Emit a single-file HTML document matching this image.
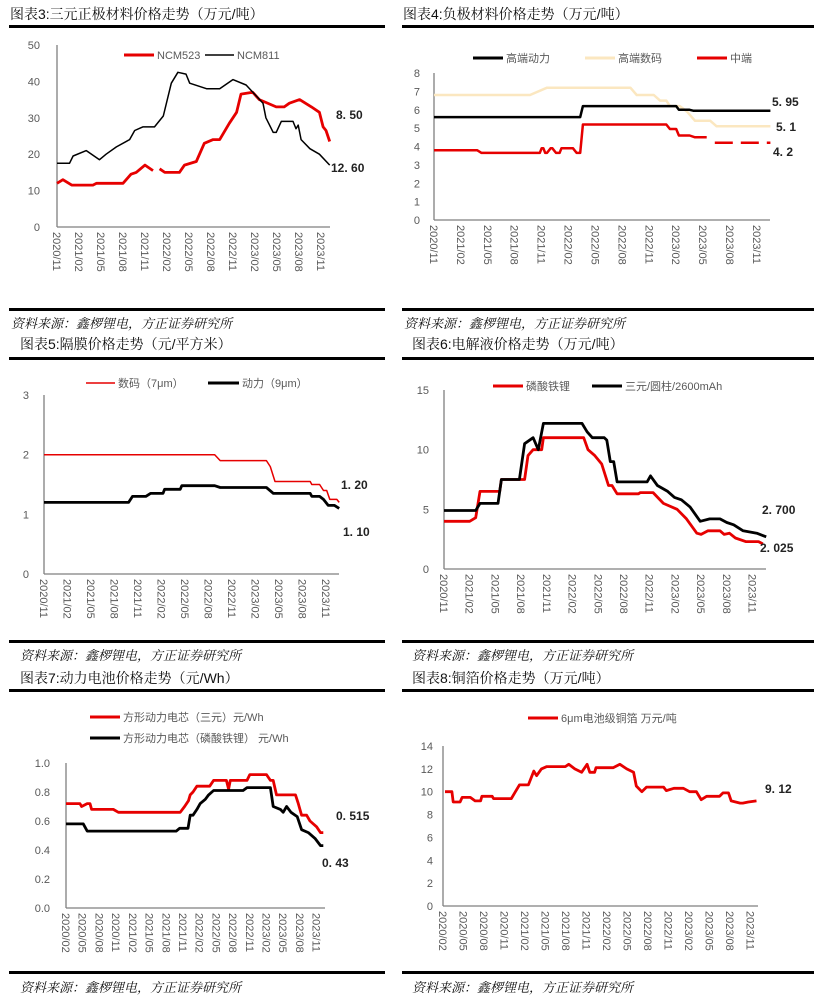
<!DOCTYPE html>
<html><head><meta charset="utf-8">
<style>
html,body{margin:0;padding:0;background:#fff;}
svg{display:block;font-family:"Liberation Sans","Noto Sans CJK SC",sans-serif;}
.ttl{font-size:14px;fill:#111;font-family:"Liberation Sans","Noto Serif CJK SC",serif;}
.src{font-size:13px;fill:#111;font-style:italic;font-family:"Liberation Serif","Noto Serif CJK SC",serif;}
.tk{font-size:11px;fill:#595959;}
.lg{font-size:11px;fill:#595959;}
.ann{font-size:12px;font-weight:bold;fill:#222;}
</style></head><body>
<svg id="root" width="829" height="1000" viewBox="0 0 829 1000" xmlns="http://www.w3.org/2000/svg">
<g>
<text class="ttl" x="10" y="19">图表3:三元正极材料价格走势（万元/吨）</text>
<rect x="9" y="25" width="376" height="3" fill="#000"/>
<text class="ttl" x="403" y="19">图表4:负极材料价格走势（万元/吨）</text>
<rect x="402" y="25" width="412" height="3" fill="#000"/>
<rect x="9" y="308" width="376" height="3" fill="#000"/>
<rect x="402" y="308" width="412" height="3" fill="#000"/>
<text class="src" x="11" y="328">资料来源：鑫椤锂电，方正证券研究所</text>
<text class="src" x="404" y="328">资料来源：鑫椤锂电，方正证券研究所</text>
<text class="ttl" x="20" y="349">图表5:隔膜价格走势（元/平方米）</text>
<rect x="9" y="357" width="376" height="3" fill="#000"/>
<text class="ttl" x="412" y="349">图表6:电解液价格走势（万元/吨）</text>
<rect x="402" y="357" width="412" height="3" fill="#000"/>
<rect x="9" y="640" width="376" height="3" fill="#000"/>
<rect x="402" y="640" width="412" height="3" fill="#000"/>
<text class="src" x="20" y="660">资料来源：鑫椤锂电，方正证券研究所</text>
<text class="src" x="412" y="660">资料来源：鑫椤锂电，方正证券研究所</text>
<text class="ttl" x="20" y="683">图表7:动力电池价格走势（元/Wh）</text>
<rect x="9" y="689" width="376" height="3" fill="#000"/>
<text class="ttl" x="412" y="683">图表8:铜箔价格走势（万元/吨）</text>
<rect x="402" y="689" width="412" height="3" fill="#000"/>
<rect x="9" y="971" width="376" height="3" fill="#000"/>
<rect x="402" y="971" width="412" height="3" fill="#000"/>
<text class="src" x="20" y="992">资料来源：鑫椤锂电，方正证券研究所</text>
<text class="src" x="412" y="992">资料来源：鑫椤锂电，方正证券研究所</text>
</g>
</svg>
<script>
// ---------- DATA (month index from first x label; values) ----------
const c3Labels = ["2020/11","2021/02","2021/05","2021/08","2021/11","2022/02","2022/05","2022/08","2022/11","2023/02","2023/05","2023/08","2023/11"];
const c3Ticks = [0,10,20,30,40,50];
const c3NcmaM = [0,0.8,2,4.9,5.4,9,10.1,10.8,12,13.1,null,14,14.7,16.7,17.4,19,20.1,21.3,22.2,23.5,24.5,25.1,26.7,27.6,29.9,31,31.7,33.1,34.7,35.8,36.3,36.7,37.2];
const c3NcmaV = [12,13,11.5,11.5,12,12,14.5,15,17,15.5,null,16,15,15,17,18,23,24,24,28.5,31.5,36.5,37,35,33,33,34,35,33,31.5,27.5,26.5,23.5];
const c3NcmbM = [0,1.7,2.2,4,5.8,6.7,8.1,9.9,10.6,11.7,13.3,14.5,15.6,16.5,17.6,18.1,20.4,22.2,24,25.8,28.1,28.5,29.5,29.9,30.6,32.2,32.6,32.9,33.3,34.5,35.8,37.2];
const c3NcmbV = [17.5,17.5,19.5,21,18.5,20,22,24,26.5,27.5,27.5,30.5,39.5,42.5,42,39.5,38,38,40.5,39,34,30,26,26,29,29,27,28,24,21.5,20,17];

const c4Labels = ["2020/11","2021/02","2021/05","2021/08","2021/11","2022/02","2022/05","2022/08","2022/11","2023/02","2023/05","2023/08","2023/11"];
const c4Ticks = [0,1,2,3,4,5,6,7,8];
const c4PowerM = [0,16.3,16.6,27,27.3,28.5,28.9,37.5];
const c4PowerV = [5.6,5.6,6.2,6.2,6.0,6.0,5.95,5.95];
const c4DigitalM = [0,10.7,12.6,21.9,22.6,24.5,25.2,25.9,26.3,27.4,28.2,29.1,30.8,31.5,37.5];
const c4DigitalV = [6.8,6.8,7.2,7.2,6.8,6.8,6.5,6.5,6.2,6.2,5.9,5.4,5.4,5.1,5.1];
const c4MidM = [0,4.8,5.3,11.8,12.0,12.2,12.4,12.6,13.0,13.2,13.6,14.0,14.2,15.5,15.9,16.3,16.6,25.9,26.3,27,27.3,28.5,29.1,30.4];
const c4MidV = [3.8,3.8,3.65,3.65,3.9,3.9,3.65,3.65,3.9,3.9,3.65,3.65,3.9,3.9,3.65,3.65,5.2,5.2,4.95,4.95,4.6,4.6,4.5,4.5];
const c4MidEstM = [31.3,37.5];
const c4MidEstV = [4.2,4.2];

const c5Labels = ["2020/11","2021/02","2021/05","2021/08","2021/11","2022/02","2022/05","2022/08","2022/11","2023/02","2023/05","2023/08","2023/11"];
const c5Ticks = [0,1,2,3];
const c5DigitalM = [0,21.8,22.5,28.4,28.9,29.5,34,34.2,35.2,35.7,36.1,36.5,37.4,37.7];
const c5DigitalV = [2.0,2.0,1.9,1.9,1.8,1.55,1.55,1.5,1.5,1.4,1.4,1.25,1.25,1.2];
const c5PowerM = [0,10.8,11.3,13,13.6,15.2,15.4,17.4,17.6,21.8,22.5,28.4,29.3,34,34.2,35.2,35.7,36.3,37.1,37.7];
const c5PowerV = [1.2,1.2,1.3,1.3,1.35,1.35,1.42,1.42,1.48,1.48,1.45,1.45,1.35,1.35,1.3,1.3,1.25,1.15,1.15,1.1];

const c6Labels = ["2020/11","2021/02","2021/05","2021/08","2021/11","2022/02","2022/05","2022/08","2022/11","2023/02","2023/05","2023/08","2023/11"];
const c6Ticks = [0,5,10,15];
const c6LfpM = [0,3,3.7,4.2,6.5,6.7,9.4,9.8,10.4,11.4,11.6,16.3,16.8,17.6,18.4,19.2,19.6,20.2,22.7,22.9,24.4,25.6,27.2,28.3,29.5,30,30.8,32.2,32.7,33.3,34,35.2,36.7,37.2];
const c6LfpV = [4,4,4.3,6.5,6.5,7.5,7.5,9.5,10,10,11,11,10,9.5,8.8,7,7,6.3,6.3,6.4,6.4,5.5,5,4.2,3,2.9,3.2,3.2,2.9,3.0,2.6,2.3,2.3,2.1];
const c6NcmM = [0,3.7,4.2,6.3,6.7,8.8,9.4,10.4,11,11.6,16.1,16.7,17.3,18.7,19,19.4,19.8,20.2,23.7,24.1,24.9,26.1,26.9,27.7,28.7,29.9,31,32.2,33,33.8,34.9,36.5,37.6];
const c6NcmV = [4.9,4.9,5.5,5.5,7.5,7.5,10.5,11,10,12.2,12.2,11.5,11,11,10.8,9,9,7.3,7.3,7.8,7,6.5,6,5.8,5.2,4,4.2,4.2,3.9,3.7,3.2,3,2.7];

const c7Labels = ["2020/02","2020/05","2020/08","2020/11","2021/02","2021/05","2021/08","2021/11","2022/02","2022/05","2022/08","2022/11","2023/02","2023/05","2023/08","2023/11"];
const c7Ticks = [0,0.2,0.4,0.6,0.8,1.0];
const c7NcmM = [0,2.5,2.8,3.8,4.3,4.6,8.5,9.4,20.5,21.3,22,22.3,22.8,23.5,25.8,26.5,28.8,29.2,29.5,32.5,33,36,36.7,37.2,37.8,41.2,41.7,42.3,43.2,43.8,45,45.7,46.2];
const c7NcmV = [0.72,0.72,0.7,0.72,0.72,0.68,0.68,0.66,0.66,0.7,0.74,0.78,0.8,0.84,0.84,0.88,0.88,0.82,0.88,0.88,0.92,0.92,0.88,0.88,0.78,0.78,0.72,0.64,0.64,0.6,0.56,0.52,0.52];
const c7LfpM = [0,3.1,3.8,19.8,20.4,21.9,22.3,22.8,23.5,24.1,25,25.6,26.5,31.8,32.5,36.7,37.2,38.5,39,39.6,40.4,41.5,42.3,43.5,44.7,45.7,46.2];
const c7LfpV = [0.58,0.58,0.53,0.53,0.55,0.55,0.64,0.64,0.68,0.72,0.75,0.78,0.81,0.81,0.83,0.83,0.7,0.68,0.66,0.7,0.66,0.63,0.54,0.52,0.48,0.43,0.43];

const c8Labels = ["2020/02","2020/05","2020/08","2020/11","2021/02","2021/05","2021/08","2021/11","2022/02","2022/05","2022/08","2022/11","2023/02","2023/05","2023/08","2023/11"];
const c8Ticks = [0,2,4,6,8,10,12,14];
const c8FoilM = [0.3,1.3,1.5,2.5,2.8,4,4.7,5.5,5.7,7.2,7.4,10,10.6,11.2,12.5,13.3,13.7,14.4,15.2,17.9,18.4,19.3,20.3,21.1,21.5,22.2,22.4,24.9,25.9,26.9,27.9,28.3,29.1,29.8,32.3,32.7,33.8,35.2,36.1,37.1,37.8,38.6,40.5,41,41.8,42.2,43.5,43.9,44.7,45.9];
const c8FoilV = [10,10,9.1,9.1,9.5,9.5,9.2,9.2,9.6,9.6,9.4,9.4,10,10.6,10.6,11.8,11.4,12,12.2,12.2,12.4,12,11.7,12.4,11.7,11.7,12.1,12.1,12.4,12,11.7,10.5,10,10.4,10.4,10.1,10.3,10.3,10,10,9.3,9.6,9.6,9.9,9.9,9.2,9.0,9.0,9.1,9.2];

// ---------- RENDER ----------
const NS = "http://www.w3.org/2000/svg";
const root = document.getElementById('root');
function mk(tag, attrs, parent){
  const e = document.createElementNS(NS, tag);
  for (const k in attrs) e.setAttribute(k, attrs[k]);
  (parent||root).appendChild(e);
  return e;
}
function chart(cfg){
  const g = mk('g', {});
  
  
  const yMax = cfg.ticks[cfg.ticks.length-1];
  const xs = m => cfg.x0 + m * cfg.ppm;
  const ys = v => cfg.y0 - (v / yMax) * (cfg.y0 - cfg.yTop);
  const ya = mk('line', {x1:cfg.x0, y1:cfg.yTop, x2:cfg.x0, y2:cfg.y0, stroke:'#7f7f7f', 'stroke-width':1.3}, g);
  
  
  const xa = mk('line', {x1:cfg.x0, y1:cfg.y0, x2:cfg.x1, y2:cfg.y0, stroke:'#7f7f7f', 'stroke-width':1.3}, g);
  
  
  cfg.ticks.forEach(t => {
    const tx = mk('text', {class:'tk', x:cfg.tickX, y:ys(t)+4, 'text-anchor':'end'}, g);
    
    
    tx.textContent = cfg.tickFmt ? cfg.tickFmt(t) : String(t);
  });
  cfg.labels.forEach((l, i) => {
    const px = xs(i*3) - 4, py = cfg.y0 + 5;
    const tx = mk('text', {class:'tk', x:px, y:py, transform:`rotate(90 ${px} ${py})`}, g);
    
    
    tx.textContent = l;
  });
  cfg.series.forEach(s => {
    let d = '', pen = false;
    s.m.forEach((m, i) => {
      const v = s.v[i];
      if (m === null || v === null) { pen = false; return; }
      d += (pen ? 'L' : 'M') + xs(m).toFixed(1) + ' ' + ys(v).toFixed(1);
      pen = true;
    });
    const p = mk('path', {d, fill:'none', stroke:s.color, 'stroke-width':s.w, 'stroke-linejoin':'round'}, g);
    if (s.dash) p.setAttribute('stroke-dasharray', s.dash);
    
    
  });
  cfg.legend.forEach(L => {
    const ln = mk('line', {x1:L.x, y1:L.y, x2:L.x+L.len, y2:L.y, stroke:L.color, 'stroke-width':L.w}, g);
    
    
    const tx = mk('text', {class:'lg', x:L.x+L.len+3, y:L.y+4}, g);
    
    
    tx.textContent = L.text;
  });
  cfg.ann.forEach(a => {
    const tx = mk('text', {class:'ann', x:a.x, y:a.y}, g);
    
    
    tx.textContent = a.t;
  });
}
const RED = '#e60000', BLK = '#000', BEIGE = '#fbe7c0';
chart({id:'chart3-cathode', x0:57, x1:330, ppm:7.33, y0:227, yTop:45, ticks:c3Ticks, tickX:40, labels:c3Labels,
  series:[{name:'ncm523-line', m:c3NcmaM, v:c3NcmaV, color:RED, w:2.8},{name:'ncm811-line', m:c3NcmbM, v:c3NcmbV, color:BLK, w:1.5}],
  legend:[{x:124,y:55,len:30,color:RED,w:3,text:'NCM523'},{x:205,y:55,len:29,color:BLK,w:1.5,text:'NCM811'}],
  ann:[{x:336,y:119,t:'8. 50'},{x:331,y:172,t:'12. 60'}]});
chart({id:'chart4-anode', x0:434, x1:770, ppm:8.97, y0:220, yTop:73, ticks:c4Ticks, tickX:420, labels:c4Labels,
  series:[{name:'high-end-digital-line', m:c4DigitalM, v:c4DigitalV, color:BEIGE, w:2.5},
          {name:'high-end-power-line', m:c4PowerM, v:c4PowerV, color:BLK, w:2.5},
          {name:'mid-end-line', m:c4MidM, v:c4MidV, color:RED, w:2.5},
          {name:'mid-end-estimate-line', m:c4MidEstM, v:c4MidEstV, color:RED, w:2.5, dash:'18 8'}],
  legend:[{x:473,y:58,len:30,color:BLK,w:3,text:'高端动力'},{x:585,y:58,len:30,color:BEIGE,w:3,text:'高端数码'},{x:697,y:58,len:30,color:RED,w:3,text:'中端'}],
  ann:[{x:772,y:106,t:'5. 95'},{x:776,y:131,t:'5. 1'},{x:773,y:156,t:'4. 2'}]});
chart({id:'chart5-separator', x0:44, x1:339, ppm:7.83, y0:574, yTop:395, ticks:c5Ticks, tickX:29, labels:c5Labels,
  series:[{name:'digital-7um-line', m:c5DigitalM, v:c5DigitalV, color:RED, w:1.5},{name:'power-9um-line', m:c5PowerM, v:c5PowerV, color:BLK, w:2.8}],
  legend:[{x:86,y:383,len:29,color:RED,w:1.5,text:'数码（7μm）'},{x:208,y:383,len:31,color:BLK,w:3,text:'动力（9μm）'}],
  ann:[{x:341,y:489,t:'1. 20'},{x:343,y:536,t:'1. 10'}]});
chart({id:'chart6-electrolyte', x0:444, x1:766, ppm:8.57, y0:569, yTop:390, ticks:c6Ticks, tickX:429, labels:c6Labels,
  series:[{name:'lfp-electrolyte-line', m:c6LfpM, v:c6LfpV, color:RED, w:2.8},{name:'ncm-cylinder-electrolyte-line', m:c6NcmM, v:c6NcmV, color:BLK, w:2.8}],
  legend:[{x:493,y:386,len:30,color:RED,w:3,text:'磷酸铁锂'},{x:592,y:386,len:30,color:BLK,w:3,text:'三元/圆柱/2600mAh'}],
  ann:[{x:762,y:514,t:'2. 700'},{x:760,y:552,t:'2. 025'}]});
chart({id:'chart7-power-battery', x0:66, x1:325, ppm:5.57, y0:908, yTop:763, ticks:c7Ticks, tickX:50, labels:c7Labels, tickFmt:t=>t.toFixed(1),
  series:[{name:'ncm-cell-line', m:c7NcmM, v:c7NcmV, color:RED, w:2.8},{name:'lfp-cell-line', m:c7LfpM, v:c7LfpV, color:BLK, w:2.8}],
  legend:[{x:90,y:717,len:30,color:RED,w:3,text:'方形动力电芯（三元）元/Wh'},{x:90,y:738,len:30,color:BLK,w:3,text:'方形动力电芯（磷酸铁锂）  元/Wh'}],
  ann:[{x:336,y:820,t:'0. 515'},{x:322,y:867,t:'0. 43'}]});
chart({id:'chart8-copper-foil', x0:443, x1:758, ppm:6.83, y0:906, yTop:746, ticks:c8Ticks, tickX:433, labels:c8Labels,
  series:[{name:'copper-foil-6um-line', m:c8FoilM, v:c8FoilV, color:RED, w:2.8}],
  legend:[{x:528,y:718,len:30,color:RED,w:3,text:'6μm电池级铜箔 万元/吨'}],
  ann:[{x:765,y:793,t:'9. 12'}]});
</script>
</body></html>
